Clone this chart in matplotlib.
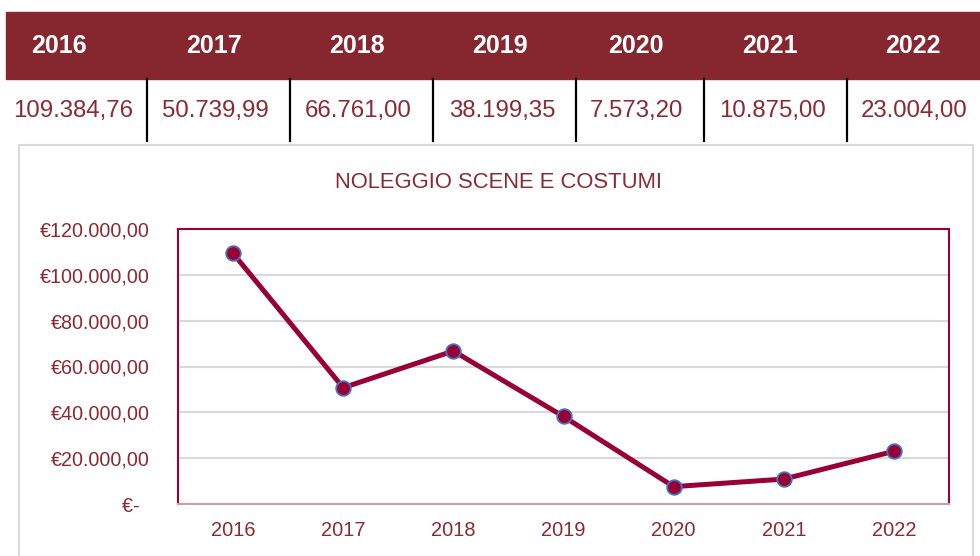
import matplotlib
matplotlib.use("Agg")
import matplotlib.pyplot as plt
from matplotlib import font_manager
from matplotlib.patches import Rectangle
from matplotlib.lines import Line2D

# data
years = ["2016", "2017", "2018", "2019", "2020", "2021", "2022"]
values = [109384.76, 50739.99, 66761.00, 38199.35, 7573.20, 10875.00, 23004.00]
value_labels = ["109.384,76", "50.739,99", "66.761,00", "38.199,35",
                "7.573,20", "10.875,00", "23.004,00"]
y_ticks = [0, 20000, 40000, 60000, 80000, 100000, 120000]
y_tick_labels = ["€-  ", "€20.000,00", "€40.000,00", "€60.000,00",
                 "€80.000,00", "€100.000,00", "€120.000,00"]
chart_title = "NOLEGGIO SCENE E COSTUMI"

# fonts: prefer a narrow face like the original
names = {f.name for f in font_manager.fontManager.ttflist}
if "Liberation Sans Narrow" in names:
    FONT, SCALE = "Liberation Sans Narrow", 1.2
else:
    FONT, SCALE = "Liberation Sans", 1.0
plt.rcParams["font.family"] = [FONT, "DejaVu Sans"]

HEADER = "#86272f"
TXT = "#8b2a33"
LINE = "#990033"
W, H = 980, 556


def fx(x):
    return x / W


def fy(y):
    return 1 - y / H


fig = plt.figure(figsize=(W / 100, H / 100), dpi=100)

# table on top
fig.patches.append(Rectangle((fx(6), fy(79)), fx(980) - fx(6), fy(12) - fy(79),
                             transform=fig.transFigure, color=HEADER, zorder=0))
head_centers = [59, 214, 357, 500, 636, 770, 913]
val_centers = [73, 215, 358, 502, 636, 772, 914]
for hx, vx, yr, lab in zip(head_centers, val_centers, years, value_labels):
    fig.text(fx(hx), fy(46), yr, ha="center", va="center", color="white",
             fontsize=18 * SCALE, fontweight="bold")
    fig.text(fx(vx), fy(111), lab, ha="center", va="center", color=TXT,
             fontsize=17.3 * SCALE)
for sx in [147, 290, 433, 576, 704, 847]:
    fig.lines.append(Line2D([fx(sx), fx(sx)], [fy(79), fy(141)],
                            transform=fig.transFigure, color="black", lw=1.6))

# chart box
fig.patches.append(Rectangle((fx(19), fy(600)), fx(973) - fx(19), fy(145) - fy(600),
                             transform=fig.transFigure, fill=False,
                             edgecolor="#d9d9d9", lw=1.5, zorder=0))
fig.text(fx(498), fy(183), chart_title, ha="center", va="center", color=TXT,
         fontsize=15.8 * SCALE)

ax = fig.add_axes([fx(178), fy(504), fx(949) - fx(178), fy(229) - fy(504)])
x = list(range(len(years)))
ax.plot(x, values, color=LINE, lw=3.6, marker="o", markersize=10.5,
        markerfacecolor=LINE, markeredgecolor="#4472c4", markeredgewidth=1.3,
        zorder=3, clip_on=False)
ax.set_xlim(-0.5, 6.5)
ax.set_ylim(0, 120000)
ax.set_yticks(y_ticks)
ax.set_yticklabels(y_tick_labels, fontsize=14.2 * SCALE)
ax.set_xticks(x)
ax.set_xticklabels(years, fontsize=14.4 * SCALE)
ax.tick_params(axis="both", length=0, colors=TXT)
ax.tick_params(axis="y", pad=20)
ax.tick_params(axis="x", pad=12)
ax.yaxis.grid(True, color="#d9d9d9", lw=1.5)
ax.set_axisbelow(True)
for side in ["left", "top", "right"]:
    ax.spines[side].set_color(LINE)
    ax.spines[side].set_linewidth(1.5)
ax.spines["bottom"].set_color("#c9a0aa")
ax.spines["bottom"].set_linewidth(1.5)

fig.savefig("out.png", dpi=100)
